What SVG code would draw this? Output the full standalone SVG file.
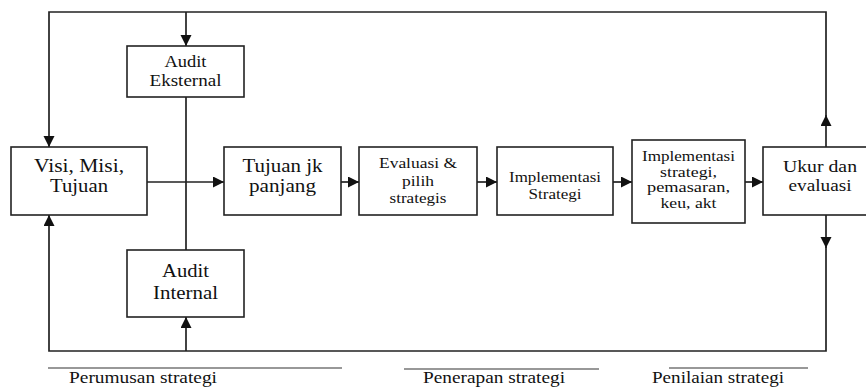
<svg xmlns="http://www.w3.org/2000/svg" width="866" height="388" viewBox="0 0 866 388">
  <style>
    .box { fill: #ffffff; stroke: #222222; stroke-width: 1.6; }
    .wire { fill: none; stroke: #222222; stroke-width: 1.7; }
    .rule { fill: none; stroke: #333333; stroke-width: 1.2; }
    text { font-family: "Liberation Serif", "Times New Roman", serif; fill: #111111; text-anchor: middle; }
    .lbl { text-anchor: start; }
  </style>
  <defs>
    <marker id="arrow" markerUnits="userSpaceOnUse" markerWidth="12" markerHeight="12" refX="11" refY="5.5" orient="auto">
      <path d="M0,0 L11,5.5 L0,11 Z" fill="#111111"/>
    </marker>
  </defs>

  <rect width="866" height="388" fill="#ffffff"/>

  <!-- connectors -->
  <g id="connectors">
    <!-- feedback loop over the top -->
    <path class="wire" d="M826,147 L826,115" marker-end="url(#arrow)"/>
    <path class="wire" d="M826,116 L826,12 L49,12 L49,147" marker-end="url(#arrow)"/>
    <path class="wire" d="M186,12 L186,46" marker-end="url(#arrow)"/>
    <!-- feedback loop along the bottom -->
    <path class="wire" d="M826,215 L826,248" marker-end="url(#arrow)"/>
    <path class="wire" d="M826,247 L826,351 L49,351 L49,215" marker-end="url(#arrow)"/>
    <path class="wire" d="M186,351 L186,317" marker-end="url(#arrow)"/>
    <!-- link between the two audits -->
    <path class="wire" d="M186,97 L186,250"/>
    <!-- main flow -->
    <path class="wire" d="M147,182 L224,182" marker-end="url(#arrow)"/>
    <path class="wire" d="M341,182 L359,182" marker-end="url(#arrow)"/>
    <path class="wire" d="M477,182 L497,182" marker-end="url(#arrow)"/>
    <path class="wire" d="M613,182 L632,182" marker-end="url(#arrow)"/>
    <path class="wire" d="M745,182 L763,182" marker-end="url(#arrow)"/>
  </g>

  <g font-family="Liberation Serif, serif" text-anchor="middle" fill="#111111">
    <g id="audit-eksternal" font-size="17">
      <rect class="box" x="127" y="46" width="117" height="51"/>
      <text x="185.5" y="67" textLength="42" lengthAdjust="spacingAndGlyphs">Audit</text>
      <text x="185.5" y="86" textLength="72" lengthAdjust="spacingAndGlyphs">Eksternal</text>
    </g>

    <g id="visi-misi" font-size="18">
      <rect class="box" x="11" y="147" width="136" height="68"/>
      <text x="79" y="172" textLength="90" lengthAdjust="spacingAndGlyphs">Visi, Misi,</text>
      <text x="79" y="192" textLength="58" lengthAdjust="spacingAndGlyphs">Tujuan</text>
    </g>

    <g id="tujuan-jk" font-size="18">
      <rect class="box" x="224" y="147" width="117" height="68"/>
      <text x="282.5" y="172" textLength="80" lengthAdjust="spacingAndGlyphs">Tujuan jk</text>
      <text x="282.5" y="192" textLength="67" lengthAdjust="spacingAndGlyphs">panjang</text>
    </g>

    <g id="evaluasi" font-size="14.5">
      <rect class="box" x="359" y="147" width="118" height="68"/>
      <text x="418" y="168" textLength="78" lengthAdjust="spacingAndGlyphs">Evaluasi &amp;</text>
      <text x="418" y="186" textLength="32" lengthAdjust="spacingAndGlyphs">pilih</text>
      <text x="418" y="203" textLength="57" lengthAdjust="spacingAndGlyphs">strategis</text>
    </g>

    <g id="implementasi-strategi" font-size="15">
      <rect class="box" x="497" y="147" width="116" height="68"/>
      <text x="555" y="182" textLength="92" lengthAdjust="spacingAndGlyphs">Implementasi</text>
      <text x="555" y="199" textLength="53" lengthAdjust="spacingAndGlyphs">Strategi</text>
    </g>

    <g id="implementasi-fungsional" font-size="13.8">
      <rect class="box" x="632" y="140" width="113" height="83"/>
      <text x="688.5" y="161" textLength="93" lengthAdjust="spacingAndGlyphs">Implementasi</text>
      <text x="688.5" y="176.5" textLength="57" lengthAdjust="spacingAndGlyphs">strategi,</text>
      <text x="688.5" y="192" textLength="83" lengthAdjust="spacingAndGlyphs">pemasaran,</text>
      <text x="688.5" y="207.5" textLength="56" lengthAdjust="spacingAndGlyphs">keu, akt</text>
    </g>

    <g id="ukur-evaluasi" font-size="17">
      <rect class="box" x="763" y="147" width="120" height="68"/>
      <text x="820" y="172" textLength="74" lengthAdjust="spacingAndGlyphs">Ukur dan</text>
      <text x="820" y="191" textLength="63" lengthAdjust="spacingAndGlyphs">evaluasi</text>
    </g>

    <g id="audit-internal" font-size="19">
      <rect class="box" x="127" y="250" width="117" height="67"/>
      <text x="185.5" y="277" textLength="47" lengthAdjust="spacingAndGlyphs">Audit</text>
      <text x="185.5" y="299" textLength="65" lengthAdjust="spacingAndGlyphs">Internal</text>
    </g>

    <!-- phase labels -->
    <g id="phases" font-size="17">
      <path class="rule" d="M48,368 L342,368"/>
      <text class="lbl" x="69" y="383" textLength="148" lengthAdjust="spacingAndGlyphs">Perumusan strategi</text>
      <path class="rule" d="M404,369 L599,369"/>
      <text class="lbl" x="423" y="383" textLength="142" lengthAdjust="spacingAndGlyphs">Penerapan strategi</text>
      <path class="rule" d="M669,368 L808,368"/>
      <text class="lbl" x="652" y="383" textLength="132" lengthAdjust="spacingAndGlyphs">Penilaian strategi</text>
    </g>
  </g>
</svg>
